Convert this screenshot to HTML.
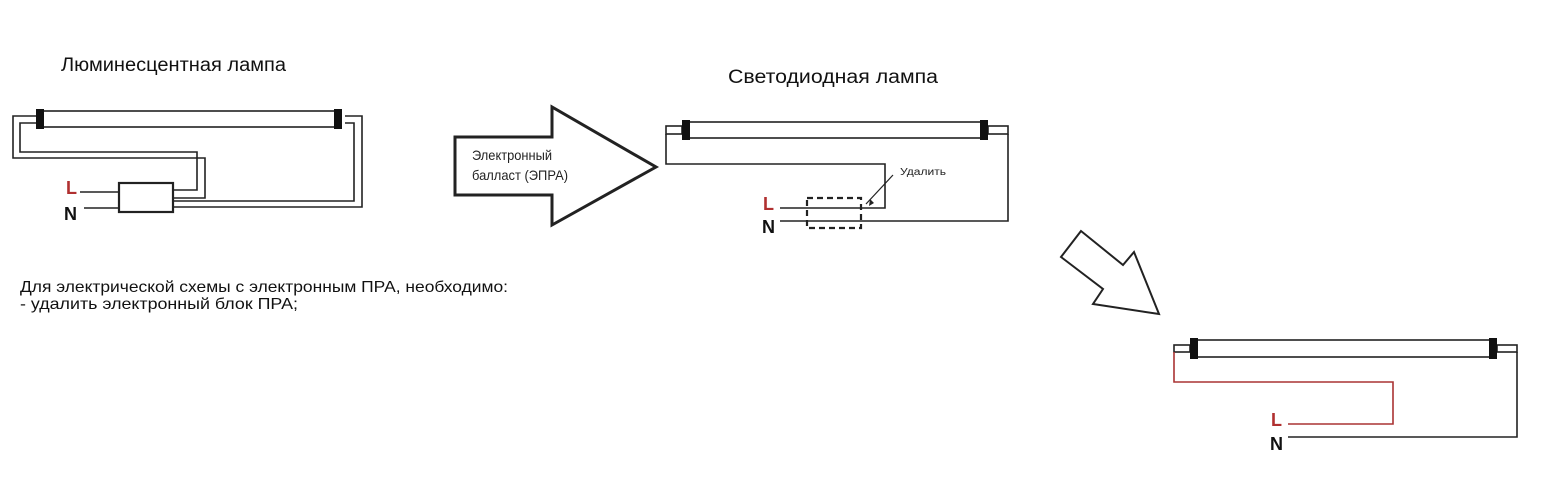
<!DOCTYPE html>
<html><head><meta charset="utf-8"><style>
body{margin:0;background:#fff;width:1545px;height:493px;overflow:hidden}
svg{display:block}
text{font-family:"Liberation Sans",sans-serif}
</style></head><body>
<svg width="1545" height="493" viewBox="0 0 1545 493">
<g fill="none" stroke="#222" stroke-width="1.6">
<!-- Left lamp -->
<rect x="40" y="111" width="300" height="16"/>
<path d="M36 116 H13 V158 H205 V198 H173"/>
<path d="M36 123 H20 V152 H197 V190 H173"/>
<path d="M345 116 H362 V207 H173"/>
<path d="M345 123 H354 V201 H173"/>
<rect x="119" y="183" width="54" height="29" stroke-width="2.2"/>
<path d="M80 192 H119 M84 208 H119"/>
<!-- Big arrow -->
<path d="M455 137 H552 V107 L656 167 L552 225 V195 H455 Z" stroke-width="3"/>
<!-- Middle lamp -->
<rect x="686" y="122" width="298" height="16"/>
<rect x="666" y="126" width="16" height="8"/>
<rect x="988" y="126" width="20" height="8"/>
<path d="M666 134 V164 H885 V208 H780"/>
<path d="M780 221 H1008 V134"/>
<rect x="807" y="198" width="54" height="30" stroke-dasharray="6,4" stroke-width="2.2"/>
<path d="M893 175 L866 204" stroke-width="1.2"/>
<!-- Down arrow -->
<path d="M1081 231 L1061 257 L1103 289 L1093 304 L1159 314 L1134 252 L1123 265 Z" stroke-width="2"/>
<!-- Bottom lamp -->
<rect x="1193" y="340" width="300" height="17"/>
<rect x="1174" y="345" width="16" height="7"/>
<rect x="1497" y="345" width="20" height="7"/>
<path d="M1288 437 H1517 V352"/>
</g>
<path d="M1174 352 V382 H1393 V424 H1288" fill="none" stroke="#a33" stroke-width="1.6"/>
<path d="M869 206 l1 -7 l4 4 z" fill="#222"/>
<g fill="#111">
<rect x="36" y="109" width="8" height="20"/><rect x="334" y="109" width="8" height="20"/>
<rect x="682" y="120" width="8" height="20"/><rect x="980" y="120" width="8" height="20"/>
<rect x="1190" y="338" width="8" height="21"/><rect x="1489" y="338" width="8" height="21"/>
</g>
<text x="61" y="71" font-size="19" fill="#111" textLength="225" lengthAdjust="spacingAndGlyphs">Люминесцентная лампа</text>
<text x="728" y="83" font-size="19" fill="#111" textLength="210" lengthAdjust="spacingAndGlyphs">Светодиодная лампа</text>
<text x="472" y="160" font-size="14" fill="#222" textLength="80" lengthAdjust="spacingAndGlyphs">Электронный</text>
<text x="472" y="180" font-size="14" fill="#222" textLength="96" lengthAdjust="spacingAndGlyphs">балласт (ЭПРА)</text>
<text x="900" y="175" font-size="10" fill="#222" textLength="46" lengthAdjust="spacingAndGlyphs">Удалить</text>
<g font-weight="bold" font-size="18">
<text x="66" y="194" fill="#b03030">L</text><text x="64" y="220" fill="#111">N</text>
<text x="763" y="210" fill="#b03030">L</text><text x="762" y="233" fill="#111">N</text>
<text x="1271" y="426" fill="#b03030">L</text><text x="1270" y="450" fill="#111">N</text>
</g>
<text x="20" y="292" font-size="16" fill="#111" textLength="488" lengthAdjust="spacingAndGlyphs">Для электрической схемы с электронным ПРА, необходимо:</text>
<text x="20" y="309" font-size="16" fill="#111" textLength="278" lengthAdjust="spacingAndGlyphs">- удалить электронный блок ПРА;</text>
</svg>
</body></html>
